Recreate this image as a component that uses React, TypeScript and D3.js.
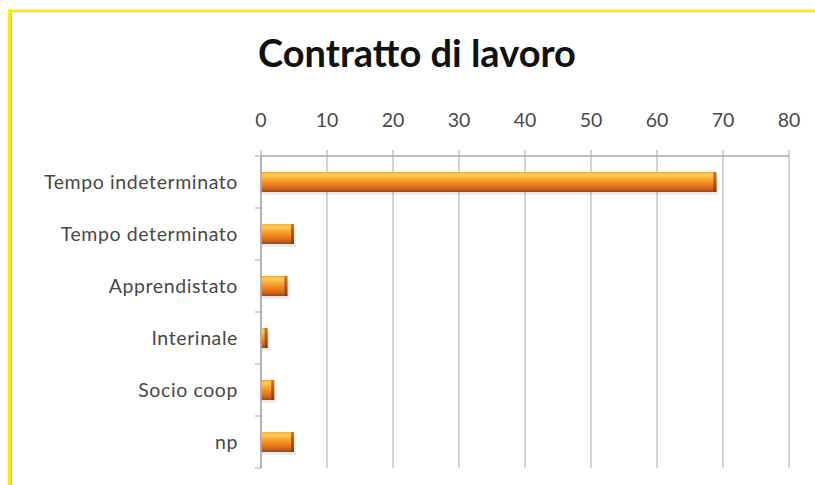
import React, { useEffect, useRef } from 'react';
import * as d3 from 'd3';

const categories = ['Tempo indeterminato', 'Tempo determinato', 'Apprendistato', 'Interinale', 'Socio coop', 'np'];
const values = [69, 5, 4, 1, 2, 5];
const xTicks = [0, 10, 20, 30, 40, 50, 60, 70, 80];
const title = 'Contratto di lavoro';

const W = 815;
const H = 485;

const App = () => {
  const svgRef = useRef<SVGSVGElement>(null);

  useEffect(() => {
    const svgEl = d3.select(svgRef.current);
    svgEl.selectAll('*').remove();
    const svg = svgEl.attr('width', W).attr('height', H);

    const margin = { top: 156, right: 26, bottom: 17, left: 261 };
    const plotW = W - margin.left - margin.right;
    const plotH = H - margin.top - margin.bottom;

    const x = d3.scaleLinear().domain([0, 80]).range([0, plotW]);
    const y = d3.scaleBand().domain(categories).range([0, plotH]).paddingInner(0.615).paddingOuter(0.3075);

    // background + yellow frame
    svg.append('rect').attr('width', W).attr('height', H).attr('fill', '#ffffff');
    svg.append('rect').attr('x', 8).attr('y', 9.5).attr('width', W).attr('height', 2.5).attr('fill', '#ffeb00');
    svg.append('rect').attr('x', 8).attr('y', 9.5).attr('width', 3).attr('height', H).attr('fill', '#ffeb00');
    svg.append('line').attr('x1', 11.5).attr('x2', 11.5).attr('y1', 12).attr('y2', H).attr('stroke', '#b8b8b8').attr('stroke-width', 1);
    svg.append('line').attr('x1', 11).attr('x2', W).attr('y1', 12.5).attr('y2', 12.5).attr('stroke', '#e6e6e6').attr('stroke-width', 1);

    svg.append('text')
      .attr('x', 417).attr('y', 67)
      .attr('text-anchor', 'middle')
      .attr('font-family', 'Lato, "Open Sans", sans-serif')
      .attr('font-weight', 'bold')
      .attr('font-size', 38)
      .attr('fill', '#111111')
      .text(title);

    const defs = svg.append('defs');
    const grad = defs.append('linearGradient').attr('id', 'barGrad').attr('x1', '0%').attr('y1', '0%').attr('x2', '0%').attr('y2', '100%');
    [
      ['0%', '#f3a840'],
      ['15%', '#ffd057'],
      ['35%', '#f9a733'],
      ['60%', '#ef8420'],
      ['85%', '#d0621a'],
      ['100%', '#9c4813'],
    ].forEach(([o, c]) => grad.append('stop').attr('offset', o).attr('stop-color', c));
    const capGrad = defs.append('linearGradient').attr('id', 'capGrad').attr('x1', '0%').attr('y1', '0%').attr('x2', '0%').attr('y2', '100%');
    [
      ['0%', '#c8782a'],
      ['50%', '#b0581a'],
      ['100%', '#84400f'],
    ].forEach(([o, c]) => capGrad.append('stop').attr('offset', o).attr('stop-color', c));

    const g = svg.append('g').attr('transform', `translate(${margin.left},${margin.top})`);

    // vertical grid lines
    g.selectAll('line.grid')
      .data(xTicks)
      .enter().append('line')
      .attr('class', 'grid')
      .attr('x1', d => x(d)).attr('x2', d => x(d))
      .attr('y1', -6).attr('y2', plotH)
      .attr('stroke', '#a9a9a9').attr('stroke-width', 1);

    // top axis line
    g.append('line')
      .attr('x1', 0).attr('x2', plotW).attr('y1', 0).attr('y2', 0)
      .attr('stroke', '#a9a9a9').attr('stroke-width', 1.5);

    // tick labels
    g.selectAll('text.xt')
      .data(xTicks)
      .enter().append('text')
      .attr('class', 'xt')
      .attr('x', d => x(d)).attr('y', -29)
      .attr('text-anchor', 'middle')
      .attr('font-family', 'Lato, "Open Sans", sans-serif')
      .attr('font-size', 19.5)
      .attr('fill', '#484848')
      .text(d => d);

    // category ticks
    const bounds = d3.range(categories.length + 1).map(i => i * y.step());
    g.selectAll('line.yt')
      .data(bounds)
      .enter().append('line')
      .attr('class', 'yt')
      .attr('x1', -6).attr('x2', 0)
      .attr('y1', d => d).attr('y2', d => d)
      .attr('stroke', '#a9a9a9').attr('stroke-width', 1);

    // category labels
    g.selectAll('text.cat')
      .data(categories)
      .enter().append('text')
      .attr('class', 'cat')
      .attr('x', -23)
      .attr('y', d => (y(d) ?? 0) + y.bandwidth() / 2)
      .attr('dy', '0.35em')
      .attr('text-anchor', 'end')
      .attr('font-family', 'Lato, "Open Sans", sans-serif')
      .attr('font-size', 19.5)
      .attr('letter-spacing', 0.6)
      .attr('fill', '#484848')
      .text(d => d);

    const data = categories.map((c, i) => ({ c, v: values[i] }));

    // shadow
    g.selectAll('rect.shadow')
      .data(data)
      .enter().append('rect')
      .attr('class', 'shadow')
      .attr('x', 1)
      .attr('y', d => (y(d.c) ?? 0) + 3)
      .attr('width', d => x(d.v) + 1)
      .attr('height', y.bandwidth())
      .attr('fill', '#000').attr('opacity', 0.08);

    g.selectAll('rect.bar')
      .data(data)
      .enter().append('rect')
      .attr('class', 'bar')
      .attr('x', 0)
      .attr('y', d => y(d.c) ?? 0)
      .attr('width', d => x(d.v))
      .attr('height', y.bandwidth())
      .attr('fill', 'url(#barGrad)');

    g.selectAll('rect.cap')
      .data(data)
      .enter().append('rect')
      .attr('class', 'cap')
      .attr('x', d => x(d.v) - 3)
      .attr('y', d => y(d.c) ?? 0)
      .attr('width', 3)
      .attr('height', y.bandwidth())
      .attr('fill', 'url(#capGrad)');

    // left axis line
    g.append('line')
      .attr('x1', 0).attr('x2', 0).attr('y1', 0).attr('y2', plotH)
      .attr('stroke', '#a9a9a9').attr('stroke-width', 1.5);
  }, []);

  return (
    <div style={{ position: 'absolute', left: 0, top: 0 }}>
      <svg ref={svgRef} style={{ display: 'block' }}></svg>
    </div>
  );
};

export default App;
